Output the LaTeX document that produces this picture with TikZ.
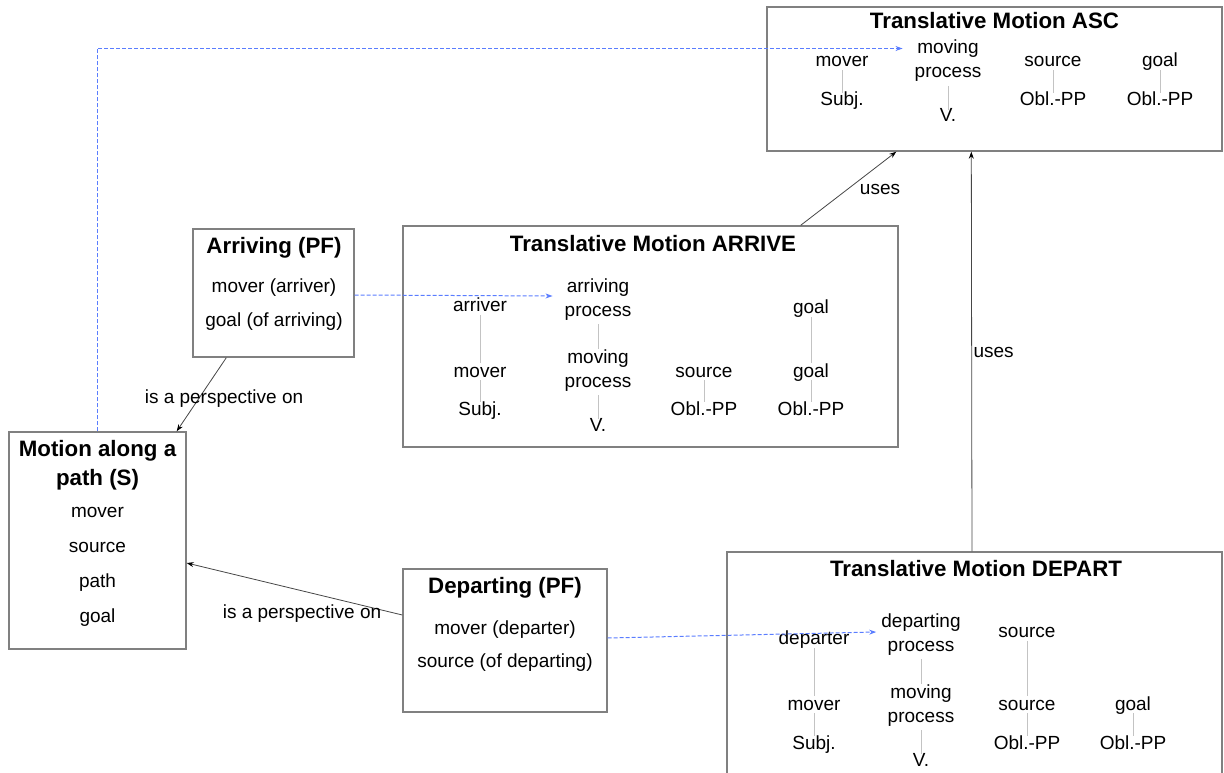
\documentclass[tikz,border=0pt]{standalone}
\usepackage{fontspec}
\setmainfont{Liberation Sans}
\usetikzlibrary{arrows.meta}
\definecolor{boxgray}{RGB}{128,128,128}
\definecolor{tiegray}{RGB}{195,195,195}
\definecolor{edgegray}{RGB}{70,70,70}
\definecolor{linkblue}{RGB}{90,125,255}
% struts that give every text line the same height and depth
\newcommand\lstrut{\rule[-4pt]{0pt}{18pt}}
\newcommand\tstrut{\rule[-5pt]{0pt}{22pt}}
\newcommand\twoline[2]{\lstrut #1\\\lstrut #2}

\begin{document}
\begin{tikzpicture}[x=1pt,y=-1pt,
  frame/.style={draw=boxgray, line width=1.4pt, inner sep=0pt},
  ttl/.style={font=\fontsize{22.3}{29}\selectfont\bfseries, inner sep=0pt, align=center},
  lab/.style={font=\fontsize{19}{24}\selectfont, inner sep=0pt, align=center},
  attr/.style={lab, anchor=base},
  tie/.style={draw=tiegray, line width=1pt},
  rel/.style={draw=edgegray, line width=0.8pt, -{Stealth[length=7pt,width=5pt,color=black]}},
  link/.style={draw=linkblue, color=linkblue, line width=1pt, dash pattern=on 4pt off 2pt,
    -{Stealth[length=7pt,width=5pt]}},
  elab/.style={lab, anchor=base}]

\useasboundingbox (0,0) rectangle (1224,773);

% ---------- Translative Motion ASC ----------
\node[frame, minimum width=455pt, minimum height=144pt] (asc) at (994.5,79) {};
\node[ttl, anchor=base] (asct) at (994.5,29) {Translative Motion ASC};
\node[lab] (ascmov) at (842,62) {\lstrut mover};
\node[lab] (ascsubj) at (842,101) {\lstrut Subj.};
\node[lab] (ascmp) at (948,61) {\twoline{moving}{process}};
\node[lab] (ascv) at (948,117) {\lstrut V.};
\node[lab] (ascsrc) at (1053,62) {\lstrut source};
\node[lab] (ascobla) at (1053,101) {\lstrut Obl.-PP};
\node[lab] (ascgoal) at (1160,62) {\lstrut goal};
\node[lab] (ascoblb) at (1160,101) {\lstrut Obl.-PP};
\draw[tie] ([yshift=1pt]ascmov.south) -- ([yshift=-1pt]ascsubj.north);
\draw[tie] ([yshift=-4pt]ascmp.south) -- ([yshift=-2pt]ascv.north);
\draw[tie] ([yshift=1pt]ascsrc.south) -- ([yshift=-1pt]ascobla.north);
\draw[tie] ([yshift=1pt]ascgoal.south) -- ([yshift=-1pt]ascoblb.north);

% ---------- Translative Motion ARRIVE ----------
\node[frame, minimum width=495pt, minimum height=221pt] (arr) at (650.5,336.5) {};
\node[ttl, anchor=base] (arrt) at (653,251) {Translative Motion ARRIVE};
\node[lab] (arrer) at (480,306) {\lstrut arriver};
\node[lab] (arrmov) at (480,372) {\lstrut mover};
\node[lab] (arrsubj) at (480,410) {\lstrut Subj.};
\node[lab] (arrproc) at (598,299) {\twoline{arriving}{process}};
\node[lab] (arrmp) at (598,370) {\twoline{moving}{process}};
\node[lab] (arrv) at (598,426) {\lstrut V.};
\node[lab] (arrsrc) at (704,372) {\lstrut source};
\node[lab] (arrobla) at (704,410) {\lstrut Obl.-PP};
\node[lab] (arrgoala) at (811,308) {\lstrut goal};
\node[lab] (arrgoalb) at (811,372) {\lstrut goal};
\node[lab] (arroblb) at (811,410) {\lstrut Obl.-PP};
\draw[tie] (arrer.south) -- (arrmov.north);
\draw[tie] ([yshift=1pt]arrmov.south) -- ([yshift=-1pt]arrsubj.north);
\draw[tie] ([yshift=-4pt]arrproc.south) -- (arrmp.north);
\draw[tie] ([yshift=-4pt]arrmp.south) -- ([yshift=-2pt]arrv.north);
\draw[tie] ([yshift=1pt]arrsrc.south) -- ([yshift=-1pt]arrobla.north);
\draw[tie] (arrgoala.south) -- (arrgoalb.north);
\draw[tie] ([yshift=1pt]arrgoalb.south) -- ([yshift=-1pt]arroblb.north);

% ---------- Translative Motion DEPART ----------
\node[frame, minimum width=495pt, minimum height=248pt] (dep) at (974.5,676) {};
\node[ttl, anchor=base] (dept) at (976,576) {Translative Motion DEPART};
\node[lab] (deper) at (814,639) {\lstrut departer};
\node[lab] (depmov) at (814,705) {\lstrut mover};
\node[lab] (depsubj) at (814,744) {\lstrut Subj.};
\node[lab] (depproc) at (921,634) {\twoline{departing}{process}};
\node[lab] (depmp) at (921,705) {\twoline{moving}{process}};
\node[lab] (depv) at (921,761) {\lstrut V.};
\node[lab] (depsrca) at (1027,632) {\lstrut source};
\node[lab] (depsrcb) at (1027,705) {\lstrut source};
\node[lab] (depobla) at (1027,744) {\lstrut Obl.-PP};
\node[lab] (depgoal) at (1133,705) {\lstrut goal};
\node[lab] (depoblb) at (1133,744) {\lstrut Obl.-PP};
\draw[tie] (deper.south) -- (depmov.north);
\draw[tie] ([yshift=1pt]depmov.south) -- ([yshift=-1pt]depsubj.north);
\draw[tie] ([yshift=-4pt]depproc.south) -- (depmp.north);
\draw[tie] ([yshift=-4pt]depmp.south) -- ([yshift=-2pt]depv.north);
\draw[tie] (depsrca.south) -- (depsrcb.north);
\draw[tie] ([yshift=1pt]depsrcb.south) -- ([yshift=-1pt]depobla.north);
\draw[tie] ([yshift=1pt]depgoal.south) -- ([yshift=-1pt]depoblb.north);

% ---------- Arriving (PF) ----------
\node[frame, minimum width=161pt, minimum height=128pt] (arriving) at (273.5,293) {};
\node[ttl, anchor=base] (arrivingt) at (274,253) {Arriving (PF)};
\node[attr] (arrivinga) at (274,292) {mover (arriver)};
\node[attr] (arrivingb) at (274,326) {goal (of arriving)};

% ---------- Motion along a path (S) ----------
\node[frame, minimum width=177pt, minimum height=217pt] (motion) at (97.5,540.5) {};
\node[ttl] (motiont) at (97.5,464.5) {\tstrut Motion along a\\\tstrut path (S)};
\node[attr] (motiona) at (97.5,517) {mover};
\node[attr] (motionb) at (97.5,552) {source};
\node[attr] (motionc) at (97.5,587) {path};
\node[attr] (motiond) at (97.5,622) {goal};

% ---------- Departing (PF) ----------
\node[frame, minimum width=204pt, minimum height=143pt] (departing) at (505,640.5) {};
\node[ttl, anchor=base] (departingt) at (505,593) {Departing (PF)};
\node[attr] (departinga) at (505,634) {mover (departer)};
\node[attr] (departingb) at (505,667) {source (of departing)};

% ---------- relations ----------
\draw[rel] ([xshift=34pt]arriving.south west) -- ([xshift=-10pt]motion.north east)
  node[elab, pos=0.5, xshift=22.5pt, yshift=-8.5pt] {is a perspective on};
\draw[rel] ([yshift=25.5pt]departing.west) -- ([yshift=-22.5pt]motion.east)
  node[elab, pos=0.5, xshift=7.5pt, yshift=-29pt] {is a perspective on};
\draw[rel] ([xshift=-98pt]arr.north east) -- ([xshift=130pt]asc.south west)
  node[elab, pos=0.5, xshift=31.5pt, yshift=-6pt] {uses};
\draw[rel] ([xshift=-2.5pt]dep.north) -- ([xshift=205pt]asc.south west)
  node[elab, pos=0.5, xshift=22pt, yshift=-6pt] {uses};

% ---------- role links ----------
\draw[link] ([xshift=-0.5pt]motion.north) |- ([shift={(-12pt,12.5pt)}]ascmp.west);
\draw[link] ([yshift=-2pt]arriving.east) -- ([shift={(-12pt,3pt)}]arrproc.west);
\draw[link] ([yshift=2.5pt]departing.east) -- ([shift={(-5pt,2pt)}]depproc.west);

\end{tikzpicture}
\end{document}
